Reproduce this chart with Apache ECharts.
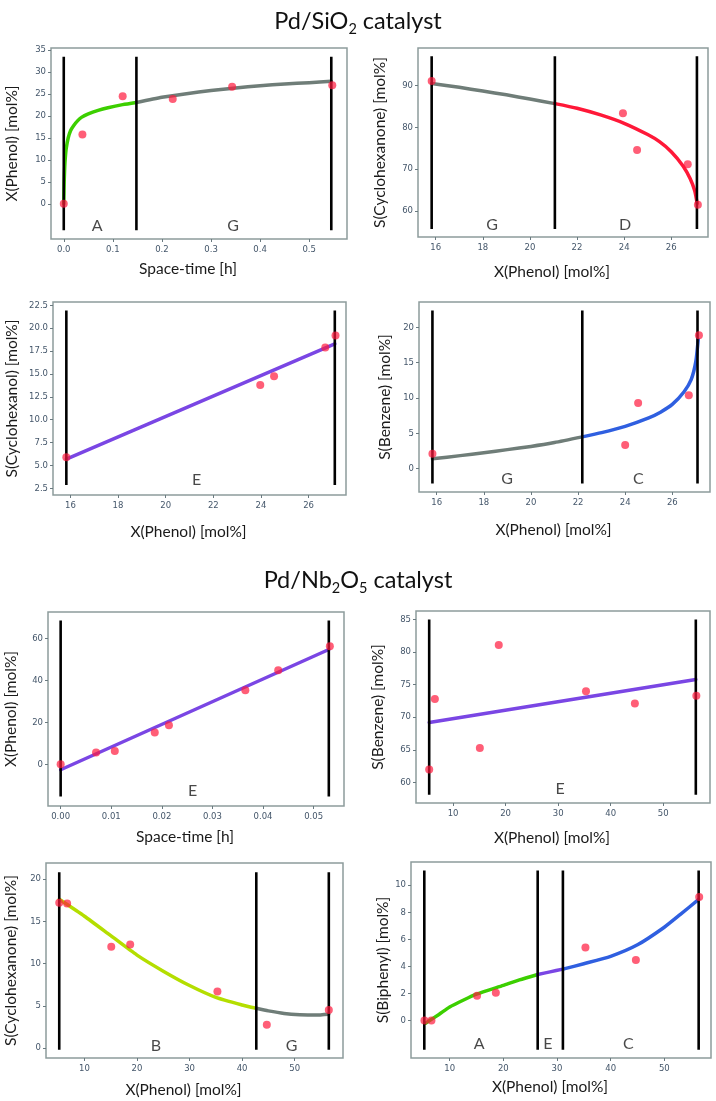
<!DOCTYPE html>
<html><head><meta charset="utf-8">
<script src="https://cdn.jsdelivr.net/npm/echarts@6/dist/echarts.min.js"></script>
<style>html,body{margin:0;padding:0;background:#fff}#c{width:716px;height:1101px}</style>
</head><body><div id="c"></div>
<script>
// ---------- Pd/SiO2 ----------
const p1Points = [[0,0],[0.038,15.8],[0.12,24.5],[0.222,23.9],[0.343,26.7],[0.547,27.0]];
const p1CurveA = [[0,0],[0.0005,3],[0.001,5.5],[0.002,8.5],[0.003,10.3],[0.005,12.6],[0.009,15],[0.014,16.7],[0.02,17.8],[0.028,18.9],[0.036,19.7],[0.05,20.5],[0.07,21.3],[0.09,21.9],[0.12,22.6],[0.148,23.1]];
const p1CurveG = [[0.148,23.1],[0.2,24.3],[0.25,25.1],[0.3,25.8],[0.35,26.4],[0.4,26.9],[0.45,27.3],[0.5,27.6],[0.545,27.9]];
const p1Bounds = [0,0.148,0.545];
const p1Regions = [[0.068,-5,'A'],[0.345,-5,'G']];
const p1XTicks = [0,0.1,0.2,0.3,0.4,0.5];
const p1YTicks = [0,5,10,15,20,25,30,35];

const p2Points = [[15.83,91.1],[23.95,83.4],[24.55,74.6],[26.7,71.2],[27.13,61.5]];
const p2CurveG = [[15.83,90.5],[17,89.6],[18,88.7],[19,87.8],[20,86.8],[21.06,85.7]];
const p2CurveD = [[21.06,85.7],[22,84.6],[23,83.0],[24,81.0],[25,78.3],[25.5,76.6],[26,74.2],[26.5,70.8],[26.8,67.8],[27,64.8],[27.1,61.8]];
const p2Bounds = [15.83,21.06,27.09];
const p2Regions = [[18.4,56.6,'G'],[24.04,56.6,'D']];
const p2XTicks = [16,18,20,22,24,26];
const p2YTicks = [60,70,80,90];

const p3Points = [[15.83,5.9],[23.97,13.8],[24.55,14.75],[26.7,17.9],[27.13,19.2]];
const p3CurveE = [[15.83,5.7],[27.1,18.3]];
const p3Bounds = [15.83,27.1];
const p3Regions = [[21.3,3.4,'E']];
const p3XTicks = [16,18,20,22,24,26];
const p3YTicks = [2.5,5,7.5,10,12.5,15,17.5,20,22.5];

const p4Points = [[15.82,2.1],[24.0,3.35],[24.55,9.3],[26.7,10.4],[27.13,18.9]];
const p4CurveG = [[15.82,1.4],[17,1.85],[18,2.25],[19,2.7],[20,3.15],[21,3.7],[22.18,4.5]];
const p4CurveC = [[22.18,4.5],[23,5.1],[24,6.0],[25,7.2],[25.5,8.0],[26,9.1],[26.5,10.9],[26.8,12.6],[27,15.2],[27.1,18.3]];
const p4Bounds = [15.82,22.18,27.07];
const p4Regions = [[18.99,-1.4,'G'],[24.56,-1.4,'C']];
const p4XTicks = [16,18,20,22,24,26];
const p4YTicks = [0,5,10,15,20];

// ---------- Pd/Nb2O5 ----------
const p5Points = [[0,0],[0.007,5.6],[0.0107,6.3],[0.0186,15.2],[0.0214,18.7],[0.0365,35.4],[0.043,44.9],[0.0532,56.3]];
const p5CurveE = [[0,-2.6],[0.053,54.8]];
const p5Bounds = [0,0.053];
const p5Regions = [[0.0261,-12.5,'E']];
const p5XTicks = [0,0.01,0.02,0.03,0.04,0.05];
const p5YTicks = [0,20,40,60];

const p6Points = [[5.46,62.0],[6.54,72.8],[15.1,65.3],[18.7,81.1],[35.3,74.0],[44.6,72.1],[56.3,73.3]];
const p6CurveE = [[5.46,69.2],[56.2,75.8]];
const p6Bounds = [5.46,56.2];
const p6Regions = [[30.4,59.0,'E']];
const p6XTicks = [10,20,30,40,50];
const p6YTicks = [60,65,70,75,80,85];

const p7Points = [[5.2,17.2],[6.7,17.1],[15.1,12.0],[18.7,12.25],[35.3,6.7],[44.7,2.75],[56.5,4.5]];
const p7CurveB = [[5.2,17.6],[10,15.6],[15,13.3],[20,11.0],[25,9.1],[30,7.4],[35,6.0],[40,5.1],[42.7,4.7]];
const p7CurveG = [[42.7,4.7],[45,4.4],[48,4.1],[51,3.95],[54,3.9],[56.5,4.0]];
const p7Bounds = [5.2,42.7,56.5];
const p7Regions = [[23.6,0.3,'B'],[49.4,0.3,'G']];
const p7XTicks = [10,20,30,40,50];
const p7YTicks = [0,5,10,15,20];

const p8Points = [[5.3,0],[6.6,0],[15.1,1.84],[18.6,2.06],[35.3,5.4],[44.7,4.47],[56.5,9.14]];
const p8CurveA = [[5.5,-0.2],[8,0.45],[10,1.0],[12.5,1.5],[15,1.95],[20,2.6],[23,3.0],[26.4,3.4]];
const p8CurveE = [[26.4,3.4],[28.7,3.6],[31.1,3.8]];
const p8CurveC = [[31.1,3.8],[35,4.2],[40,4.75],[45,5.6],[50,6.9],[53,7.85],[56.4,8.95]];
const p8Bounds = [5.27,26.4,31.1,56.4];
const p8Regions = [[15.5,-1.72,'A'],[28.3,-1.72,'E'],[43.3,-1.72,'C']];
const p8XTicks = [10,20,30,40,50];
const p8YTicks = [0,2,4,6,8,10];

const GREEN='#3ccf00', GRAY='#6f7d78', RED='#ff1838', PURPLE='#7a46e4', BLUE='#2f5fe0', YGREEN='#b4de00';
const FONT = 'Lato, "Open Sans", sans-serif';

const panels = [
  {grid:{left:51,top:48,width:296,height:191}, x:[-0.026,0.577], y:[-8,35.5], xt:p1XTicks, yt:p1YTicks, xd:1, yd:0,
   xName:'Space-time [h]', yName:'X(Phenol) [mol%]', xGap:22, yGap:31, pts:p1Points,
   curves:[[p1CurveA,GREEN],[p1CurveG,GRAY]], bounds:p1Bounds, by:[-6,33.5], regions:p1Regions},
  {grid:{left:418,top:48,width:290,height:189}, x:[15.25,27.56], y:[53.8,99.0], xt:p2XTicks, yt:p2YTicks, xd:0, yd:0,
   xName:'X(Phenol) [mol%]', yName:'S(Cyclohexanone) [mol%]', xGap:27, yGap:30, pts:p2Points,
   curves:[[p2CurveG,GRAY],[p2CurveD,RED]], bounds:p2Bounds, by:[55.7,97.0], regions:p2Regions},
  {grid:{left:53,top:302,width:293,height:193}, x:[15.27,27.57], y:[1.77,22.87], xt:p3XTicks, yt:p3YTicks, xd:0, yd:1,
   xName:'X(Phenol) [mol%]', yName:'S(Cyclohexanol) [mol%]', xGap:29, yGap:33, pts:p3Points,
   curves:[[p3CurveE,PURPLE]], bounds:p3Bounds, by:[2.86,21.95], regions:p3Regions},
  {grid:{left:419,top:302,width:291,height:190}, x:[15.25,27.6], y:[-3.3,23.6], xt:p4XTicks, yt:p4YTicks, xd:0, yd:0,
   xName:'X(Phenol) [mol%]', yName:'S(Benzene) [mol%]', xGap:30, yGap:26, pts:p4Points,
   curves:[[p4CurveG,GRAY],[p4CurveC,BLUE]], bounds:p4Bounds, by:[-2.1,22.4], regions:p4Regions},
  {grid:{left:48,top:612,width:296,height:194}, x:[-0.0025,0.056], y:[-19.9,72.7], xt:p5XTicks, yt:p5YTicks, xd:2, yd:0,
   xName:'Space-time [h]', yName:'X(Phenol) [mol%]', xGap:23, yGap:29, pts:p5Points,
   curves:[[p5CurveE,PURPLE]], bounds:p5Bounds, by:[-15.4,68.7], regions:p5Regions},
  {grid:{left:416,top:611,width:294,height:192}, x:[2.95,58.9], y:[56.85,86.3], xt:p6XTicks, yt:p6YTicks, xd:0, yd:0,
   xName:'X(Phenol) [mol%]', yName:'S(Benzene) [mol%]', xGap:27, yGap:30, pts:p6Points,
   curves:[[p6CurveE,PURPLE]], bounds:p6Bounds, by:[58.1,85], regions:p6Regions},
  {grid:{left:46,top:863,width:297,height:195}, x:[2.68,59.2], y:[-1.18,21.9], xt:p7XTicks, yt:p7YTicks, xd:0, yd:0,
   xName:'X(Phenol) [mol%]', yName:'S(Cyclohexanone) [mol%]', xGap:24, yGap:27, pts:p7Points,
   curves:[[p7CurveB,YGREEN],[p7CurveG,GRAY]], bounds:p7Bounds, by:[-0.2,20.8], regions:p7Regions},
  {grid:{left:411,top:862,width:300,height:196}, x:[2.79,58.7], y:[-2.77,11.72], xt:p8XTicks, yt:p8YTicks, xd:0, yd:0,
   xName:'X(Phenol) [mol%]', yName:'S(Biphenyl) [mol%]', xGap:21, yGap:18, pts:p8Points,
   curves:[[p8CurveA,GREEN],[p8CurveE,PURPLE],[p8CurveC,BLUE]], bounds:p8Bounds, by:[-2.16,11.1], regions:p8Regions}
];

const titleRich = {
  a:{fontFamily:FONT,fontSize:23.5,fontWeight:'normal',color:'#111',height:28,lineHeight:28,verticalAlign:'bottom'},
  b:{fontFamily:FONT,fontSize:14.5,fontWeight:'normal',color:'#111',height:11,lineHeight:11,verticalAlign:'bottom'}
};
const option = {
  animation:false,
  backgroundColor:'#fff',
  title:[
    {text:'{a|Pd/SiO}{b|2}{a| catalyst}', left:'center', top:2, textStyle:{fontWeight:'normal', rich:titleRich}},
    {text:'{a|Pd/Nb}{b|2}{a|O}{b|5}{a| catalyst}', left:'center', top:561, textStyle:{fontWeight:'normal', rich:titleRich}}
  ],
  grid:[], xAxis:[], yAxis:[], series:[]
};

panels.forEach((p,i)=>{
  option.grid.push(Object.assign({show:true, borderColor:'#8d9c9c', borderWidth:1.5, backgroundColor:'#fff'}, p.grid));
  option.xAxis.push({
    gridIndex:i, type:'value', nameLocation:'middle', splitLine:{show:false},
    axisLine:{show:false, onZero:false}, position:'bottom',
    min:p.x[0], max:p.x[1], name:p.xName, nameGap:p.xGap,
    nameTextStyle:{fontFamily:FONT, fontSize:15.5, color:'#1a1a1a', padding:[0,22,0,0]},
    axisTick:{show:true, length:3, customValues:p.xt, lineStyle:{color:'#6a7a80'}},
    axisLabel:{customValues:p.xt, fontFamily:'DejaVu Sans', fontSize:8.5, color:'#44566a', margin:6,
      formatter:v=>Number(v).toFixed(p.xd)}
  });
  option.yAxis.push({
    gridIndex:i, type:'value', nameLocation:'middle', splitLine:{show:false},
    axisLine:{show:false, onZero:false}, position:'left',
    min:p.y[0], max:p.y[1], name:p.yName, nameGap:p.yGap,
    nameTextStyle:{fontFamily:FONT, fontSize:15.5, color:'#1a1a1a'},
    axisTick:{show:true, length:3, customValues:p.yt, lineStyle:{color:'#6a7a80'}},
    axisLabel:{customValues:p.yt, fontFamily:'DejaVu Sans', fontSize:8.5, color:'#44566a', margin:5,
      formatter:v=>Number(v).toFixed(p.yd)}
  });
  p.curves.forEach(([data,color])=>{
    option.series.push({type:'line', xAxisIndex:i, yAxisIndex:i, data:data, smooth:0.2,
      symbol:'none', lineStyle:{color:color, width:3.5, join:'round', cap:'round'}, z:3, silent:true});
  });
  p.bounds.forEach(b=>{
    option.series.push({type:'line', xAxisIndex:i, yAxisIndex:i, data:[[b,p.by[0]],[b,p.by[1]]],
      symbol:'none', lineStyle:{color:'#000', width:2.6}, z:4, silent:true});
  });
  option.series.push({type:'scatter', xAxisIndex:i, yAxisIndex:i, data:p.pts, symbolSize:8,
    itemStyle:{color:'rgba(255,25,60,0.87)'}, z:6, silent:true});
  option.series.push({type:'scatter', xAxisIndex:i, yAxisIndex:i, data:p.regions, symbolSize:0,
    label:{show:true, position:'inside', formatter:q=>q.data[2], fontFamily:FONT, fontSize:16, color:'#1a1a1a'},
    z:7, silent:true});
});

const chart = echarts.init(document.getElementById('c'), null, {renderer:'canvas'});
chart.setOption(option);
</script>
</body></html>
